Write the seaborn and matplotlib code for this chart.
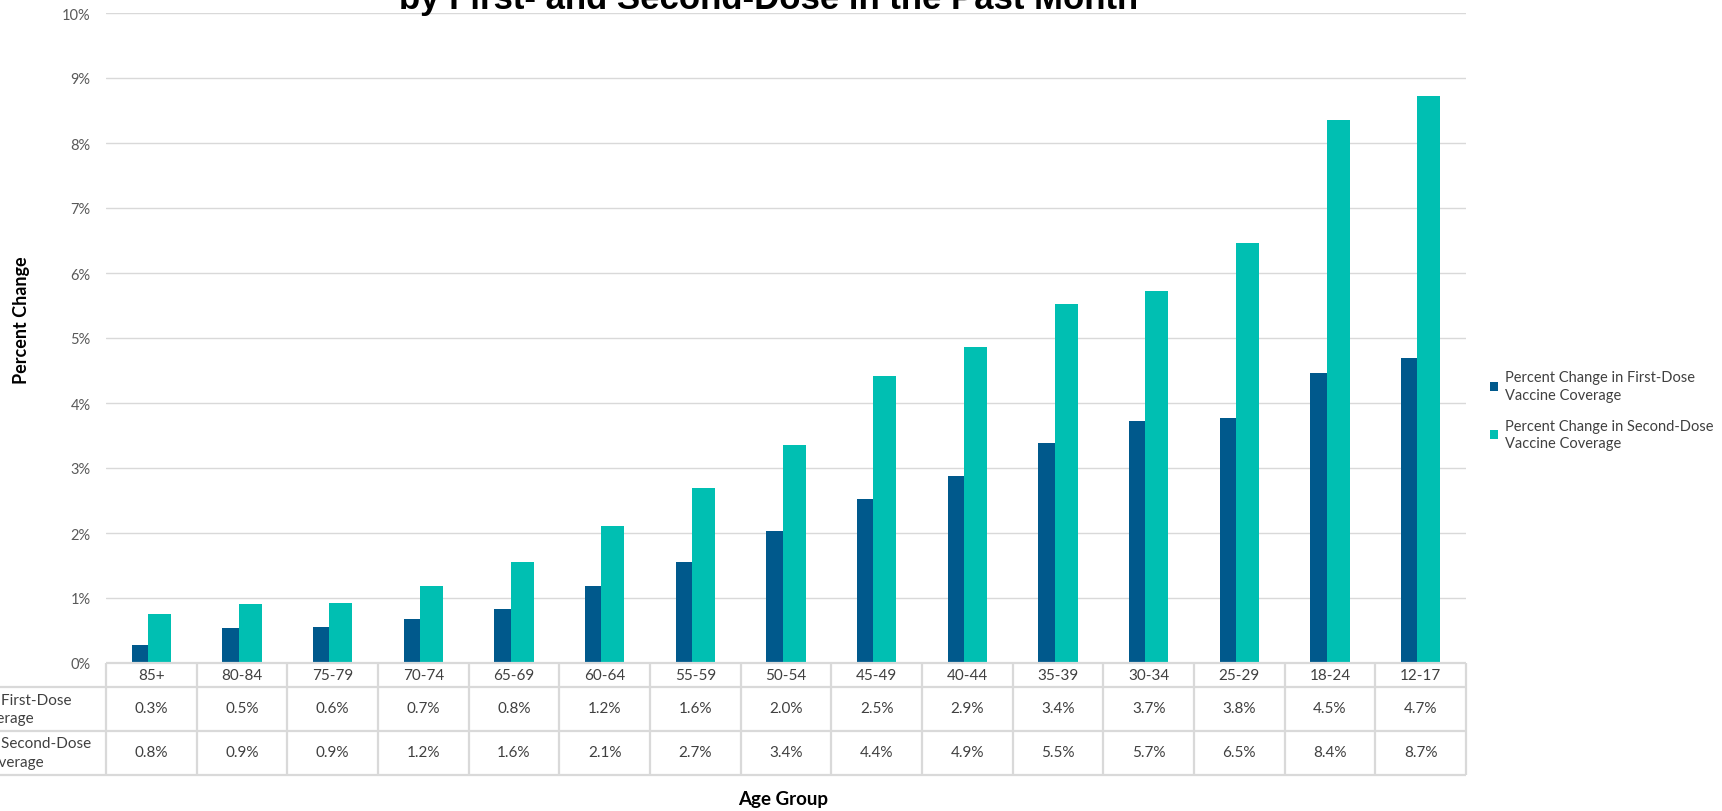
import matplotlib
matplotlib.use("Agg")
import matplotlib.pyplot as plt
from matplotlib.patches import Patch
import seaborn as sns
import pandas as pd

# ---------------- data ----------------
age_groups = ["85+", "80-84", "75-79", "70-74", "65-69", "60-64", "55-59", "50-54",
              "45-49", "40-44", "35-39", "30-34", "25-29", "18-24", "12-17"]
first_dose = [0.28, 0.54, 0.55, 0.68, 0.83, 1.18, 1.55, 2.03,
              2.53, 2.88, 3.39, 3.72, 3.77, 4.46, 4.69]
second_dose = [0.76, 0.91, 0.92, 1.18, 1.56, 2.11, 2.69, 3.36,
               4.42, 4.86, 5.53, 5.73, 6.46, 8.36, 8.72]
series_names = ["Percent Change in First-Dose\nVaccine Coverage",
                "Percent Change in Second-Dose\nVaccine Coverage"]
y_ticks = [0, 1, 2, 3, 4, 5, 6, 7, 8, 9, 10]
title_line = "by First- and Second-Dose in the Past Month"

BLUE = "#00598C"
TEAL = "#00BFB2"
GRID = "#D9D9D9"
TICK = "#595959"
TXT = "#404040"

df = pd.DataFrame({
    "age": age_groups * 2,
    "value": first_dose + second_dose,
    "series": [series_names[0]] * len(age_groups) + [series_names[1]] * len(age_groups),
})

sns.set_theme(style="white")
plt.rcParams["font.family"] = ["Lato", "DejaVu Sans"]

W, H = 1722, 812
fig = plt.figure(figsize=(W / 100, H / 100), dpi=100)
L, R, T, B = 106, 1466, 14, 664
ax = fig.add_axes([L / W, 1 - B / H, (R - L) / W, (B - T) / H])

sns.barplot(data=df, x="age", y="value", hue="series", order=age_groups,
            hue_order=series_names, palette=[BLUE, TEAL], width=0.36,
            dodge=True, saturation=1, linewidth=0, ax=ax, legend=False)

# widen bars so they overlap slightly, keeping their centres
bw = 0.257
for cont in ax.containers:
    for bar in cont:
        c = bar.get_x() + bar.get_width() / 2
        bar.set_width(bw)
        bar.set_x(c - bw / 2)

ax.set_xlim(-0.5, len(age_groups) - 0.5)
ax.set_ylim(0, 10)
ax.set_yticks(y_ticks)
ax.set_yticklabels([f"{t}%" for t in y_ticks], color=TICK, fontsize=10.5)
ax.tick_params(axis="y", length=0, pad=11)
ax.set_xticks(range(len(age_groups)))
ax.set_xticklabels([])
ax.tick_params(axis="x", length=0)
ax.set_xlabel("")
ax.set_ylabel("")
for s in ax.spines.values():
    s.set_visible(False)
ax.yaxis.grid(True, color=GRID, linewidth=1.0)
ax.set_axisbelow(True)

# ---------------- data table ----------------
def yax(px):
    return (B - px) / (B - T)

tr = ax.get_xaxis_transform()
rows_px = [B, 687.5, 731.5, 775.5]
n = len(age_groups)
lkw = dict(color=GRID, linewidth=1.6, transform=tr, clip_on=False, solid_capstyle="butt")
ax.plot([-0.5, n - 0.5], [yax(rows_px[0])] * 2, **lkw)
for ypx in rows_px[1:]:
    ax.plot([-3.0, n - 0.5], [yax(ypx)] * 2, **lkw)
for i in range(n + 1):
    ax.plot([i - 0.5, i - 0.5], [yax(rows_px[0]), yax(rows_px[-1])], **lkw)

tkw = dict(transform=tr, ha="center", va="center", fontsize=11, color=TXT, clip_on=False)
for i, (g, a, b) in enumerate(zip(age_groups, first_dose, second_dose)):
    ax.text(i, yax((rows_px[0] + rows_px[1]) / 2), g, **tkw)
    ax.text(i, yax((rows_px[1] + rows_px[2]) / 2), f"{a:.1f}%", **tkw)
    ax.text(i, yax((rows_px[2] + rows_px[3]) / 2), f"{b:.1f}%", **tkw)

def ftext(xpx, ypx, s, **kw):
    fig.text(xpx / W, 1 - ypx / H, s, **kw)

# row labels (run off the left edge, as in the source)
rkw = dict(ha="right", va="center", fontsize=11, color=TXT)
l1a, l1b = series_names[0].split("\n")
l2a, l2b = series_names[1].split("\n")
ftext(72, 701, l1a, **rkw)
ftext(34, 719, l1b, **rkw)
ftext(91, 744, l2a, **rkw)
ftext(44, 763, l2b, **rkw)

# axis titles
ftext(22, 320, "Percent Change", rotation=90, ha="center", va="center",
      fontsize=13, fontweight="bold", color="black")
ftext(783, 800, "Age Group", ha="center", va="center",
      fontsize=13.5, fontweight="bold", color="black")

# title (its upper line lies outside the canvas)
fig.text(769 / W, 1 - 9 / H, title_line, ha="center", va="baseline",
         fontsize=25, fontweight="bold", color="black",
         family=["Liberation Sans", "DejaVu Sans"])

# legend
handles = [Patch(facecolor=BLUE, edgecolor="none"), Patch(facecolor=TEAL, edgecolor="none")]
fig.legend(handles, series_names, loc="upper left",
           bbox_to_anchor=(1490 / W, 1 - 371 / H), frameon=False,
           fontsize=10.5, labelcolor=TXT, handlelength=0.55, handleheight=0.55,
           handletextpad=0.5, labelspacing=1.15, borderaxespad=0, borderpad=0,
           prop={"size": 10.5})
for t in fig.legends[0].get_texts():
    t.set_linespacing(1.35)

fig.savefig("out.png", dpi=100)
